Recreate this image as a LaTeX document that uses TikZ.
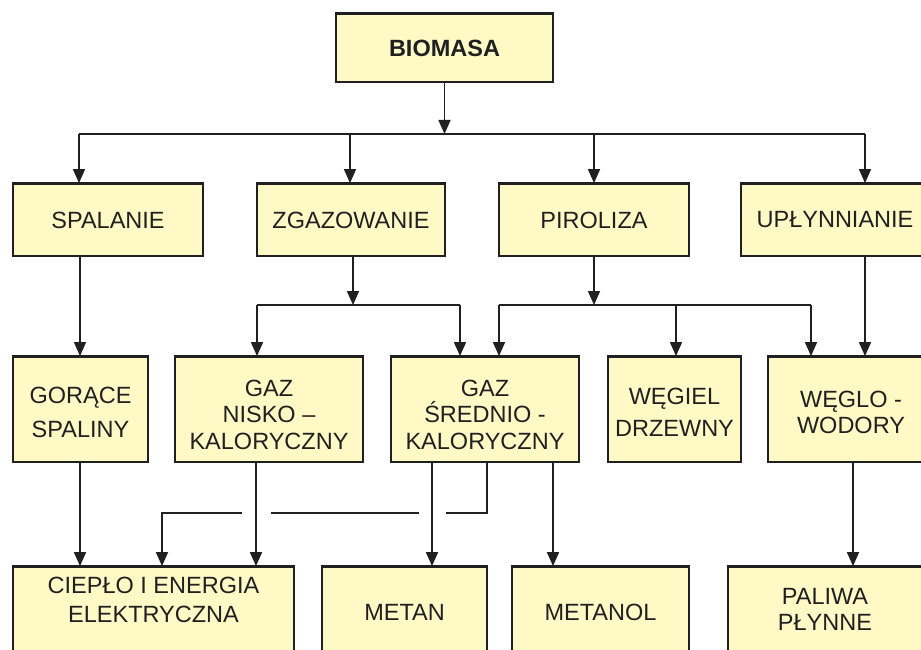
\documentclass[tikz,border=0pt]{standalone}
\usepackage{fontspec}
\setmainfont{Liberation Sans}
\usetikzlibrary{arrows.meta}
\definecolor{boxfill}{RGB}{255,249,198}
\definecolor{ink}{RGB}{32,32,32}
\begin{document}
\begin{tikzpicture}[x=1pt,y=-1pt,
  box/.style={draw=ink, line width=1.8pt, fill=boxfill, inner sep=0pt},
  txt/.style={inner sep=0pt, align=center, text=ink, font=\fontsize{23.5}{26.5}\selectfont},
  topedge/.style={draw=ink, line width=3pt},
  conn/.style={draw=ink, line width=1.6pt},
  arr/.style={conn, -{Triangle[width=12pt,length=14pt]}}]
\useasboundingbox (0,0) rectangle (921,650);
% row 1
\node[box, minimum width=217, minimum height=68] (bio) at (444.5,48) {};
% row 2
\node[box, minimum width=190, minimum height=72] (spal) at (108,220) {};
\node[box, minimum width=188, minimum height=72] (zgaz) at (351,220) {};
\node[box, minimum width=190, minimum height=72] (piro) at (594,220) {};
\node[box, minimum width=188, minimum height=72] (uply) at (835,220) {};
% row 3
\node[box, minimum width=135, minimum height=105] (gor) at (80.5,409.5) {};
\node[box, minimum width=188, minimum height=105] (nisko) at (269,409.5) {};
\node[box, minimum width=188, minimum height=105] (sred) at (485,409.5) {};
\node[box, minimum width=133, minimum height=105] (weg) at (674.5,409.5) {};
\node[box, minimum width=166, minimum height=105] (wod) at (851,409.5) {};
% row 4
\node[box, minimum width=281, minimum height=89] (ciep) at (153.5,611.5) {};
\node[box, minimum width=165, minimum height=89] (metan) at (404.5,611.5) {};
\node[box, minimum width=177, minimum height=89] (metol) at (600.5,611.5) {};
\node[box, minimum width=194, minimum height=89] (pal) at (825,611.5) {};
% thicker top edges
\foreach \b in {bio,spal,zgaz,piro,uply,gor,nisko,sred,weg,wod,ciep,metan,metol,pal}
  \draw[topedge] (\b.north west) -- (\b.north east);
% labels
\node[txt, font=\fontsize{23.5}{26.5}\selectfont\bfseries] (bio-t) at (bio) {BIOMASA};
\node[txt] (spal-t) at (spal) {SPALANIE};
\node[txt] (zgaz-t) at (zgaz) {ZGAZOWANIE};
\node[txt] (piro-t) at (piro) {PIROLIZA};
\node[txt] (uply-t) at (uply) {UPŁYNNIANIE};
\node[txt, yshift=-3pt] (gor-t) at (gor) {GORĄCE\\[7.5pt]SPALINY};
\node[txt, yshift=-5pt] (nisko-t) at (nisko) {GAZ\\NISKO –\\KALORYCZNY};
\node[txt, yshift=-5pt] (sred-t) at (sred) {GAZ\\ŚREDNIO -\\KALORYCZNY};
\node[txt, yshift=-3pt] (weg-t) at (weg) {WĘGIEL\\[5.5pt]DRZEWNY};
\node[txt, yshift=-3pt] (wod-t) at (wod) {WĘGLO -\\WODORY};
\node[txt, yshift=12pt] (ciep-t) at (ciep) {CIEPŁO I ENERGIA\\[2.5pt]ELEKTRYCZNA};
\node[txt, yshift=-1pt] (metan-t) at (metan) {METAN};
\node[txt, yshift=-1pt] (metol-t) at (metol) {METANOL};
\node[txt, yshift=2pt] (pal-t) at (pal) {PALIWA\\PŁYNNE};
% junctions
\coordinate (j1) at (444.5,134);
\coordinate (j1a) at (79,134);
\coordinate (j1b) at (350,134);
\coordinate (j1c) at (594,134);
\coordinate (j1d) at (865,134);
\coordinate (j2) at (353,305);
\coordinate (j2a) at (257,305);
\coordinate (j2b) at (460,305);
\coordinate (j3) at (594,305);
\coordinate (j3a) at (499,305);
\coordinate (j3b) at (676,305);
\coordinate (j3c) at (811,305);
\coordinate (s1) at (80,0);
\coordinate (s2) at (865,0);
\coordinate (s3) at (853,0);
\coordinate (n1) at (256,0);
\coordinate (m1) at (432,0);
\coordinate (m2) at (553,0);
\coordinate (k1) at (487,513);
\coordinate (k2) at (446,513);
\coordinate (k3) at (419,513);
\coordinate (k4) at (271,513);
\coordinate (k5) at (242,513);
\coordinate (k6) at (162,513);
% row1 -> row2
\draw[arr] (bio.south) -- (j1);
\draw[conn] (j1a) -- (j1d);
\draw[arr] (j1a) -- (j1a |- spal.north);
\draw[arr] (j1b) -- (j1b |- zgaz.north);
\draw[arr] (j1c) -- (j1c |- piro.north);
\draw[arr] (j1d) -- (j1d |- uply.north);
% row2 -> row3
\draw[arr] (s1 |- spal.south) -- (s1 |- gor.north);
\draw[arr] (j2 |- zgaz.south) -- (j2);
\draw[conn] (j2a) -- (j2b);
\draw[arr] (j2a) -- (j2a |- nisko.north);
\draw[arr] (j2b) -- (j2b |- sred.north);
\draw[arr] (j3 |- piro.south) -- (j3);
\draw[conn] (j3a) -- (j3c);
\draw[arr] (j3a) -- (j3a |- sred.north);
\draw[arr] (j3b) -- (j3b |- weg.north);
\draw[arr] (j3c) -- (j3c |- wod.north);
\draw[arr] (s2 |- uply.south) -- (s2 |- wod.north);
% row3 -> row4
\draw[arr] (s1 |- gor.south) -- (s1 |- ciep.north);
\draw[arr] (n1 |- nisko.south) -- (n1 |- ciep.north);
\draw[arr] (m1 |- sred.south) -- (m1 |- metan.north);
\draw[arr] (m2 |- sred.south) -- (m2 |- metol.north);
\draw[arr] (s3 |- wod.south) -- (s3 |- pal.north);
\draw[conn] (k1 |- sred.south) -- (k1) -- (k2);
\draw[conn] (k3) -- (k4);
\draw[arr] (k5) -- (k6) -- (k6 |- ciep.north);
\end{tikzpicture}
\end{document}
